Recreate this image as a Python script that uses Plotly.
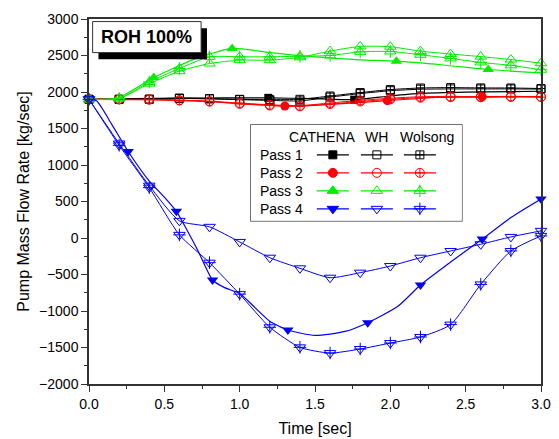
import plotly.graph_objects as go

# time points of the WH / Wolsong results
t = [0.0, 0.2, 0.4, 0.6, 0.8, 1.0, 1.2, 1.4, 1.6, 1.8, 2.0, 2.2, 2.4, 2.6, 2.8, 3.0]

# Pass 1
p1_wh = [1900, 1900, 1900, 1912, 1905, 1895, 1885, 1878, 1930, 1978, 2018, 2038, 2042, 2042, 2042, 2040]
p1_wol = [1900, 1900, 1903, 1917, 1910, 1900, 1895, 1900, 1945, 1992, 2033, 2055, 2060, 2056, 2055, 2048]
p1_cat_t = [0.0, 0.3, 0.6, 0.9, 1.19, 1.5, 1.76, 2.0, 2.2, 2.5, 2.8, 3.0]
p1_cat = [1900, 1908, 1915, 1920, 1920, 1908, 1895, 1945, 1980, 1998, 2005, 2010]
p1_mk_t = [1.19, 1.76]
p1_mk = [1920, 1895]

# Pass 2
p2_wh = [1900, 1900, 1898, 1888, 1875, 1848, 1825, 1812, 1850, 1885, 1915, 1935, 1940, 1935, 1940, 1935]
p2_wol = [1900, 1898, 1895, 1884, 1868, 1838, 1815, 1803, 1835, 1870, 1900, 1922, 1930, 1928, 1932, 1930]
p2_cat_t = [0.0, 0.4, 0.8, 1.1, 1.3, 1.6, 1.98, 2.3, 2.61, 3.0]
p2_cat = [1900, 1895, 1870, 1830, 1808, 1830, 1881, 1925, 1936, 1935]
p2_mk_t = [1.30, 1.98, 2.61]
p2_mk = [1808, 1881, 1936]

# Pass 3
p3_wh = [1900, 1910, 2115, 2285, 2390, 2436, 2436, 2475, 2560, 2625, 2620, 2560, 2520, 2485, 2445, 2395]
p3_wol = [1900, 1912, 2137, 2322, 2482, 2482, 2482, 2490, 2500, 2550, 2555, 2510, 2460, 2405, 2365, 2305]
p3_cat_t = [0.0, 0.1, 0.2, 0.43, 0.7, 0.95, 1.2, 1.5, 1.8, 2.04, 2.35, 2.65, 3.0]
p3_cat = [1900, 1900, 1925, 2198, 2450, 2597, 2540, 2480, 2440, 2422, 2370, 2308, 2262]
p3_mk_t = [0.43, 0.95, 2.04, 2.65]
p3_mk = [2198, 2597, 2422, 2308]

# Pass 4
p4_wh = [1900, 1295, 717, 235, 153, -54, -270, -415, -544, -475, -384, -270, -178, -86, 15, 98]
p4_wol = [1900, 1270, 690, 43, -338, -769, -1223, -1498, -1576, -1521, -1439, -1356, -1186, -636, -178, 29]
p4_cat_t = [0.0, 0.05, 0.15, 0.26, 0.4, 0.5, 0.58, 0.65, 0.72, 0.82, 0.9, 1.0, 1.1, 1.2,
            1.32, 1.5, 1.7, 1.85, 2.05, 2.2, 2.4, 2.61, 2.8, 3.0]
p4_cat = [1900, 1880, 1560, 1185, 780, 560, 365, 110, -160, -575, -680, -760, -950, -1140,
          -1260, -1335, -1280, -1160, -935, -644, -330, -14, 280, 534]
p4_mk_t = [0.26, 0.58, 0.82, 1.32, 1.85, 2.2, 2.61, 3.0]
p4_mk = [1185, 365, -575, -1260, -1160, -644, -14, 534]

passes = ['Pass 1', 'Pass 2', 'Pass 3', 'Pass 4']
codes = ['CATHENA', 'WH', 'Wolsong']

colors = ['#000000', '#ff0000', '#00ee00', '#0000ff']
sym_cat = ['square', 'circle', 'triangle-up', 'triangle-down']
sym_wh = ['square-open', 'circle-open', 'triangle-up-open', 'triangle-down-open']
sym_wol = ['square-cross-open', 'circle-cross-open', 'triangle-up-open', 'triangle-down-open']
cross_extra = [False, False, True, True]
sizes = [7, 8, 9, 9]

cat_lines = [(p1_cat_t, p1_cat), (p2_cat_t, p2_cat), (p3_cat_t, p3_cat), (p4_cat_t, p4_cat)]
cat_marks = [(p1_mk_t, p1_mk), (p2_mk_t, p2_mk), (p3_mk_t, p3_mk), (p4_mk_t, p4_mk)]
wh_vals = [p1_wh, p2_wh, p3_wh, p4_wh]
wol_vals = [p1_wol, p2_wol, p3_wol, p4_wol]

fig = go.Figure()

for i in range(4):
    c = colors[i]
    # Wolsong
    fig.add_trace(go.Scatter(
        x=t, y=wol_vals[i], mode='lines+markers', cliponaxis=False,
        line=dict(color=c, width=1, shape='spline', smoothing=0.6),
        marker=dict(symbol=sym_wol[i], size=sizes[i] + 1, color=c, line=dict(color=c, width=1)),
        showlegend=False))
    if cross_extra[i]:
        fig.add_trace(go.Scatter(
            x=t, y=wol_vals[i], mode='markers', cliponaxis=False,
            marker=dict(symbol='cross-thin-open', size=sizes[i], color=c, line=dict(color=c, width=1)),
            showlegend=False))
    # WH
    fig.add_trace(go.Scatter(
        x=t, y=wh_vals[i], mode='lines+markers', cliponaxis=False,
        line=dict(color=c, width=1, shape='spline', smoothing=0.6),
        marker=dict(symbol=sym_wh[i], size=sizes[i] + 1, color=c, line=dict(color=c, width=1)),
        showlegend=False))
    # CATHENA
    fig.add_trace(go.Scatter(
        x=cat_lines[i][0], y=cat_lines[i][1], mode='lines',
        line=dict(color=c, width=1.2, shape='spline', smoothing=0.6),
        showlegend=False))
    fig.add_trace(go.Scatter(
        x=cat_marks[i][0], y=cat_marks[i][1], mode='markers', cliponaxis=False,
        marker=dict(symbol=sym_cat[i], size=sizes[i] + 1, color=c, line=dict(color=c, width=0)),
        showlegend=False))

# custom legend table drawn on a hidden inset axis (units ~ pixels)
col_x = [82, 126, 169]
row_y = [30, 48, 66, 84]
half = 16
for i in range(4):
    c = colors[i]
    syms = [sym_cat[i], sym_wh[i], sym_wol[i]]
    for j in range(3):
        fig.add_trace(go.Scatter(
            x=[col_x[j] - half, col_x[j] + half], y=[row_y[i], row_y[i]], mode='lines',
            line=dict(color=c, width=1.2), xaxis='x2', yaxis='y2', showlegend=False))
        fig.add_trace(go.Scatter(
            x=[col_x[j]], y=[row_y[i]], mode='markers', xaxis='x2', yaxis='y2',
            marker=dict(symbol=syms[j], size=sizes[i] + 1, color=c, line=dict(color=c, width=1)),
            showlegend=False))
        if j == 2 and cross_extra[i]:
            fig.add_trace(go.Scatter(
                x=[col_x[j]], y=[row_y[i]], mode='markers', xaxis='x2', yaxis='y2',
                marker=dict(symbol='cross-thin-open', size=sizes[i], color=c, line=dict(color=c, width=1)),
                showlegend=False))

annotations = []
for i, p in enumerate(passes):
    annotations.append(dict(x=7, y=row_y[i], xref='x2', yref='y2', text=p, showarrow=False,
                            xanchor='left', yanchor='middle', font=dict(size=14, color='#000')))
head_x = [72, 125.5, 176]
for j, name in enumerate(codes):
    annotations.append(dict(x=head_x[j], y=12.5, xref='x2', yref='y2', text=name, showarrow=False,
                            xanchor='center', yanchor='middle', font=dict(size=14, color='#000')))
annotations.append(dict(x=0.128, y=0.951, xref='paper', yref='paper', text='<b>ROH 100%</b>',
                        showarrow=False, xanchor='center', yanchor='middle',
                        font=dict(size=18, color='#000')))

shapes = [
    dict(type='rect', xref='paper', yref='paper', x0=0.021, x1=0.261, y0=0.89, y1=0.975,
         fillcolor='#000', line=dict(width=0), layer='above'),
    dict(type='rect', xref='paper', yref='paper', x0=0.008, x1=0.248, y0=0.908, y1=0.993,
         fillcolor='#fff', line=dict(color='#333', width=1), layer='above'),
    dict(type='rect', xref='paper', yref='paper', x0=0.358, x1=0.825, y0=0.447, y1=0.710,
         fillcolor='rgba(255,255,255,0)', line=dict(color='#222', width=1.2), layer='below'),
]

axis_font = dict(family='Liberation Sans, Arial, sans-serif', size=14, color='#000')

# page body has an 8px margin, so the figure is shrunk/shifted to land where the reference is
fig.update_layout(
    width=551, height=431,
    margin=dict(l=81, r=18, t=11, b=55),
    paper_bgcolor='white', plot_bgcolor='white',
    font=dict(family='Liberation Sans, Arial, sans-serif', color='#000'),
    xaxis=dict(range=[0, 3], dtick=0.5, tick0=0, tickformat='.1f', showgrid=False, zeroline=False,
               showline=True, linecolor='#333', linewidth=1.5, mirror=True, automargin=False,
               ticks='outside', ticklen=6, tickwidth=1, tickcolor='#333',
               minor=dict(dtick=0.25, ticks='outside', ticklen=3, tickcolor='#333'),
               tickfont=axis_font,
               title=dict(text='Time [sec]', font=dict(size=16, color='#000'), standoff=12)),
    yaxis=dict(range=[-2000, 3000], dtick=500, showgrid=False, zeroline=False,
               showline=True, linecolor='#333', linewidth=1.5, mirror=True, automargin=False,
               ticks='outside', ticklen=6, tickwidth=1, tickcolor='#333',
               minor=dict(dtick=250, ticks='outside', ticklen=3, tickcolor='#333'),
               tickfont=axis_font,
               title=dict(text='Pump Mass Flow Rate [kg/sec]', font=dict(size=16, color='#000'), standoff=6)),
    xaxis2=dict(domain=[0.358, 0.825], anchor='y2', range=[0, 211], visible=False, fixedrange=True),
    yaxis2=dict(domain=[0.447, 0.710], anchor='x2', range=[96, 0], visible=False, fixedrange=True),
    annotations=annotations,
    shapes=shapes,
)

fig.write_html('out.html')
